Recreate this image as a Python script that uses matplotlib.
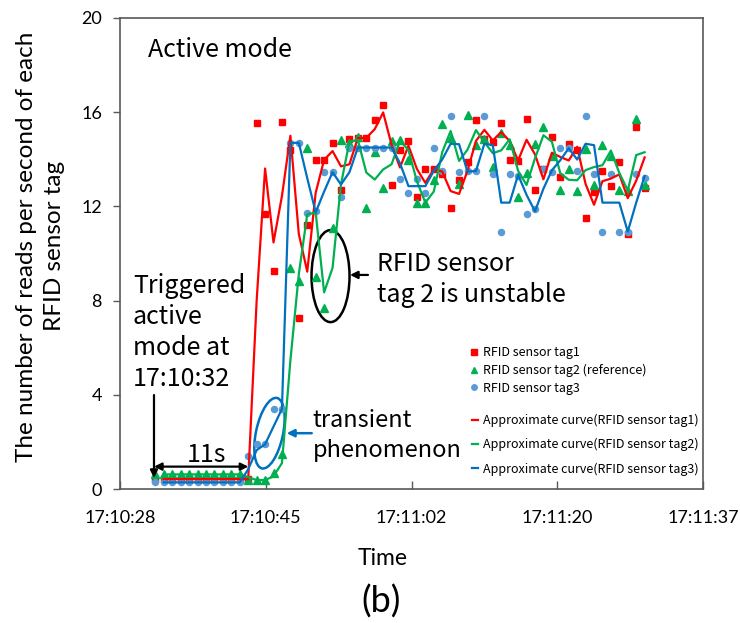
import numpy as np
import matplotlib.pyplot as plt
from matplotlib.patches import Ellipse
from matplotlib.transforms import ScaledTranslation

# seconds after 17:10:28, one reading per second
t_pts = np.arange(4, 63)
t_curve = t_pts[1:]

# reads per second, scatter points
tag1 = [0.42, 0.42, 0.42, 0.42, 0.42, 0.42, 0.42, 0.42, 0.42, 0.42, 0.42, 0.42,
        15.55, 11.66, 9.27, 15.6, 14.4, 7.25, 11.2, 13.96, 13.99, 14.7, 12.7, 14.88,
        14.92, 14.9, 15.66, 16.32, 12.9, 14.4, 14.76, 12.42, 13.58, 13.58, 13.37, 11.93,
        13.12, 13.9, 15.65, 14.85, 14.75, 15.56, 13.97, 13.93, 15.72, 12.7, 13.6, 14.96,
        13.24, 14.65, 14.4, 11.5, 12.63, 13.5, 12.85, 13.87, 10.82, 15.36, 12.8]
tag2 = [0.62, 0.62, 0.62, 0.62, 0.62, 0.62, 0.62, 0.62, 0.62, 0.62, 0.62,
        0.38, 0.38, 0.38, 0.7, 1.5, 9.4, 8.85, 14.47, 9.0, 7.7, 11.07, 14.8, 14.7,
        14.93, 11.95, 14.33, 12.8, 14.78, 14.8, 13.98, 12.16, 12.16, 13.1, 15.5, 14.9,
        12.95, 15.87, 14.6, 14.85, 13.66, 15.1, 14.6, 12.41, 13.4, 14.67, 15.36, 14.14,
        12.68, 13.57, 12.64, 14.43, 12.9, 14.6, 14.14, 12.7, 12.66, 15.7, 12.9]
tag3 = [0.28, 0.28, 0.28, 0.28, 0.28, 0.28, 0.28, 0.28, 0.28, 0.28, 0.28,
        1.4, 1.9, 1.9, 3.4, 3.4, 14.7, 14.7, 11.7, 11.8, 13.45, 13.45, 12.4, 14.5,
        14.5, 14.5, 14.5, 14.5, 14.5, 13.16, 12.55, 13.16, 12.55, 14.47, 13.5, 15.82,
        13.45, 13.5, 13.5, 15.82, 13.38, 10.93, 13.38, 13.3, 11.68, 11.9, 13.6, 13.45,
        14.47, 14.47, 13.5, 15.82, 13.38, 10.93, 13.38, 10.93, 10.93, 13.38, 13.2]

# approximate curves (from 17:10:33 on)
curve1 = [0.42, 0.42, 0.42, 0.42, 0.42, 0.42, 0.42, 0.42, 0.42, 0.42, 0.42,
          7.99, 13.61, 10.47, 12.44, 15.0, 10.83, 9.23, 12.58, 13.98, 14.35, 13.7, 13.79,
          14.9, 14.91, 15.28, 15.99, 14.61, 13.65, 14.58, 13.59, 13.0, 13.58, 13.48, 12.65,
          12.53, 13.51, 14.78, 15.25, 14.8, 15.16, 14.77, 13.95, 14.83, 14.21, 13.15, 14.28,
          14.1, 13.95, 14.53, 12.95, 12.07, 13.07, 13.18, 13.36, 12.35, 13.09, 14.08]
curve2 = [0.62, 0.62, 0.62, 0.62, 0.62, 0.62, 0.62, 0.62, 0.62, 0.62,
          0.5, 0.38, 0.38, 0.54, 1.1, 5.45, 9.13, 11.66, 11.74, 8.35, 9.39, 12.94, 14.75,
          14.82, 13.44, 13.14, 13.57, 13.79, 14.79, 14.39, 13.07, 12.16, 12.63, 14.3, 15.2,
          13.93, 14.41, 15.24, 14.73, 14.26, 14.38, 14.85, 13.51, 12.91, 14.04, 15.02, 14.75,
          13.41, 13.13, 13.11, 13.54, 13.67, 13.75, 14.37, 13.42, 12.68, 14.18, 14.3]
curve3 = [0.28, 0.28, 0.28, 0.28, 0.28, 0.28, 0.28, 0.28, 0.28, 0.28,
          0.84, 1.65, 1.9, 2.65, 3.4, 14.7, 14.7, 13.2, 11.75, 12.63, 13.45, 12.93, 13.45,
          14.5, 14.5, 14.5, 14.5, 14.5, 13.83, 12.86, 12.86, 12.86, 13.51, 13.99, 14.66,
          14.64, 13.48, 13.5, 14.66, 14.6, 12.16, 12.16, 13.34, 12.49, 11.79, 12.75, 13.53,
          13.96, 14.47, 13.99, 14.66, 14.6, 12.16, 12.16, 12.16, 10.93, 12.16, 13.29]

x_ticklabels = ['17:10:28', '17:10:45', '17:11:02', '17:11:20', '17:11:37']
x_start = -0.2
x_step = 17.28

RED = '#FF0000'
GREEN = '#00B050'
BLUE_PT = '#5B9BD5'
BLUE_LN = '#0070C0'
AXC = '#595959'

plt.rcParams['font.family'] = ['Lato', 'DejaVu Sans']
cjk = ['Noto Sans CJK SC', 'DejaVu Sans']

fig = plt.figure(figsize=(7.4, 6.23), dpi=100)
ax = fig.add_axes([120 / 740, 1 - 489 / 623, 583 / 740, 471 / 623])

p1, = ax.plot(t_pts, tag1, ls='none', marker='s', ms=4.8, color=RED, label='RFID sensor tag1')
p2, = ax.plot(t_pts, tag2, ls='none', marker='^', ms=5.2, color=GREEN, label='RFID sensor tag2 (reference)')
p3, = ax.plot(t_pts, tag3, ls='none', marker='o', ms=4.4, color=BLUE_PT, label='RFID sensor tag3')
l1, = ax.plot(t_curve, curve1, color=RED, lw=1.6, label='Approximate curve(RFID sensor tag1)')
l2, = ax.plot(t_curve, curve2, color=GREEN, lw=1.6, label='Approximate curve(RFID sensor tag2)')
l3, = ax.plot(t_curve, curve3, color=BLUE_LN, lw=1.6, label='Approximate curve(RFID sensor tag3)')

ax.set_xlim(x_start, x_start + 4 * x_step)
ax.set_xticks([x_start + k * x_step for k in range(5)])
ax.set_xticklabels(x_ticklabels)
ax.set_ylim(0, 20)
ax.set_yticks([0, 4, 8, 12, 16, 20])
ax.tick_params(axis='x', direction='in', length=6, width=1, color=AXC, pad=15, labelsize=13)
ax.tick_params(axis='y', direction='out', length=5, width=1, color=AXC, pad=8, labelsize=13)
for s in ax.spines.values():
    s.set_color(AXC)
    s.set_linewidth(1.2)

ax.set_ylabel('The number of reads per second of each\nRFID sensor tag', fontsize=17.5, linespacing=1.4)
ax.yaxis.label.set_va('center')
ax.yaxis.set_label_coords(-0.137, 0.515)
ax.set_xlabel('Time', fontsize=16.5, va='baseline')
ax.xaxis.set_label_coords(0.451, -0.161)
fig.text(381 / 740, 1 - 602 / 623, '(b)', ha='center', va='center', fontsize=26)

# legends: scatter group and curve group
leg1 = ax.legend(handles=[p1, p2, p3], loc='upper left', bbox_to_anchor=(469 / 740, 1 - 346 / 623),
                 bbox_transform=fig.transFigure, frameon=False, prop={'family': cjk, 'size': 9},
                 handlelength=0.8, handletextpad=0.32, labelspacing=0.37, borderpad=0,
                 borderaxespad=0, markerscale=0.9)
ax.add_artist(leg1)
ax.legend(handles=[l1, l2, l3], loc='upper left', bbox_to_anchor=(471.7 / 740, 1 - 414 / 623),
          bbox_transform=fig.transFigure, frameon=False, prop={'family': cjk, 'size': 9},
          handlelength=0.5, handletextpad=0.4, labelspacing=0.87, borderpad=0, borderaxespad=0)

# annotations
ax.text(3.12, 18.34, 'Active mode', family=cjk, fontsize=18, va='baseline')
for txt, yb in zip(['Triggered', 'active', 'mode at', '17:10:32'], [8.32, 7.01, 5.69, 4.37]):
    ax.text(1.34, yb, txt, family=cjk, fontsize=18, va='baseline')
ax.text(10.0, 1.15, '11s', family=cjk, fontsize=18, ha='center', va='baseline')
for txt, yb in zip(['RFID sensor', 'tag 2 is unstable'], [9.26, 7.94]):
    ax.text(30.3, yb, txt, family=cjk, fontsize=18, va='baseline')
for txt, yb in zip(['transient', 'phenomenon'], [2.65, 1.37]):
    ax.text(22.65, yb, txt, family=cjk, fontsize=17, va='baseline')

arrow_k = dict(arrowstyle='-|>', color='black', lw=1.6, mutation_scale=11, shrinkA=0, shrinkB=0)
ax.annotate('', xy=(3.83, 0.47), xytext=(3.83, 3.99), arrowprops=arrow_k)
ax.annotate('', xy=(15.01, 0.95), xytext=(3.83, 0.95),
            arrowprops=dict(arrowstyle='<|-|>', color='black', lw=1.6, mutation_scale=11, shrinkA=0, shrinkB=0))
ax.annotate('', xy=(27.07, 9.09), xytext=(29.2, 9.09), arrowprops=arrow_k)
ax.annotate('', xy=(19.56, 2.37), xytext=(22.53, 2.37),
            arrowprops=dict(arrowstyle='-|>', color=BLUE_LN, lw=1.8, mutation_scale=11, shrinkA=0, shrinkB=0))


def ring(x, y, w_px, h_px, angle, color):
    tr = fig.dpi_scale_trans + ScaledTranslation(x, y, ax.transData)
    ax.add_patch(Ellipse((0, 0), w_px / 100, h_px / 100, angle=angle, transform=tr,
                         fill=False, ec=color, lw=1.8))


ring(24.76, 9.04, 38, 92, 0, 'black')
ring(17.52, 2.37, 27, 72, -12, BLUE_LN)

fig.savefig('out.png', dpi=100)
